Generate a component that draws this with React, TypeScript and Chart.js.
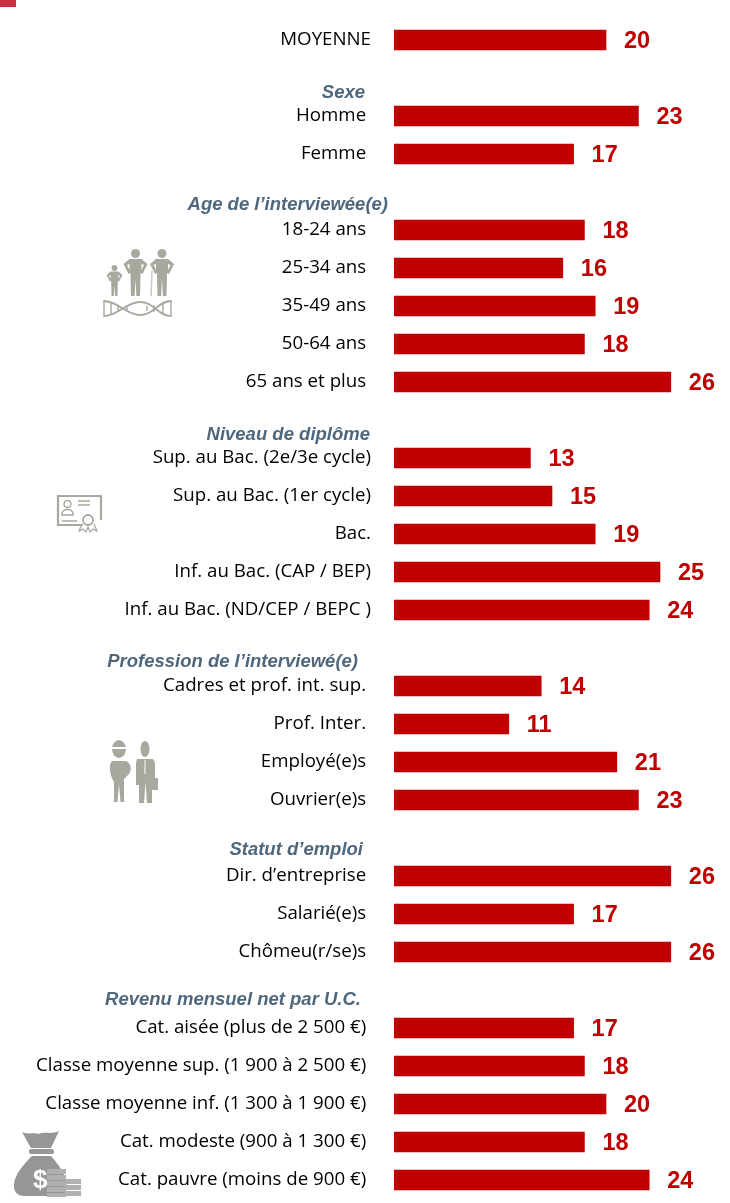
import React, { useEffect, useRef } from "react";
import { Chart, registerables } from "chart.js";

Chart.register(...registerables);

const categories = [
  "MOYENNE", "",
  "Homme", "Femme", "",
  "18-24 ans", "25-34 ans", "35-49 ans", "50-64 ans", "65 ans et plus", "",
  "Sup. au Bac. (2e/3e cycle)", "Sup. au Bac. (1er cycle)", "Bac.", "Inf. au Bac. (CAP / BEP)", "Inf. au Bac. (ND/CEP / BEPC )", "",
  "Cadres et prof. int. sup.", "Prof. Inter.", "Employé(e)s", "Ouvrier(e)s", "",
  "Dir. d’entreprise", "Salarié(e)s", "Chômeu(r/se)s", "",
  "Cat. aisée (plus de 2 500 €)", "Classe moyenne sup. (1 900 à 2 500 €)", "Classe moyenne inf. (1 300 à 1 900 €)", "Cat. modeste (900 à 1 300 €)", "Cat. pauvre (moins de 900 €)",
];
const values = [
  20, null,
  23, 17, null,
  18, 16, 19, 18, 26, null,
  13, 15, 19, 25, 24, null,
  14, 11, 21, 23, null,
  26, 17, 26, null,
  17, 18, 20, 18, 24,
];
const flushLabels = ["MOYENNE", "Sup. au Bac. (2e/3e cycle)", "Sup. au Bac. (1er cycle)", "Bac.", "Inf. au Bac. (CAP / BEP)", "Inf. au Bac. (ND/CEP / BEPC )"];
const headings = ["Sexe", "Age de l’interviewée(e)", "Niveau de diplôme", "Profession de l’interviewé(e)", "Statut d’emploi", "Revenu mensuel net par U.C."];
const headingRows = [1.39, 4.34, 10.39, 16.37, 21.31, 25.26];
const headingRight = [365, 388, 370, 358, 363, 361];

const RED = "#c00000";

const overlay = {
  id: "overlay",
  afterDatasetsDraw(chart: any) {
    const { ctx, scales } = chart;
    ctx.save();
    ctx.fillStyle = RED;
    ctx.font = "bold 23.5px 'Liberation Sans'";
    ctx.textAlign = "left";
    ctx.textBaseline = "middle";
    values.forEach((v, i) => {
      if (v == null) return;
      ctx.fillText(String(v), scales.x.getPixelForValue(v) + 18, scales.y.getPixelForValue(i) + 2);
    });
    ctx.fillStyle = "#4f677c";
    ctx.font = "italic bold 18.5px 'Liberation Sans'";
    ctx.textAlign = "right";
    headings.forEach((h, i) => {
      ctx.fillText(h, headingRight[i], scales.y.getPixelForValue(headingRows[i]));
    });
    ctx.restore();
  },
};

const ICON = "#a9a89f";

function Person({ x, y, s }: { x: number; y: number; s: number }) {
  return (
    <g transform={`translate(${x} ${y}) scale(${s})`} fill={ICON}>
      <circle cx="0" cy="4.5" r="4.5" />
      <path fillRule="evenodd" d="M-6 10 H6 L12 15 L7 25 L5 24 V27 L4.5 47 H0.9 L0 30 L-0.9 47 H-4.5 L-5 27 V24 L-7 25 L-12 15 Z M-6 15 L-8.5 16 L-6 21 Z M6 15 L8.5 16 L6 21 Z" />
    </g>
  );
}

function Icons() {
  const base: React.CSSProperties = { position: "absolute", filter: "blur(0.7px)", overflow: "visible" };
  return (
    <>
      <div style={{ position: "absolute", left: 0, top: 0, width: 16, height: 7, background: "#c8353f" }} />
      <svg style={{ ...base, left: 100, top: 245 }} width="80" height="80">
        <Person x={14.5} y={20} s={0.66} />
        <Person x={35.5} y={4} s={1} />
        <Person x={62} y={4} s={1} />
        <path d="M52 26 L51 51" stroke="#c9c8c2" strokeWidth="1.5" fill="none" />
        <path d="M4 56 C18 56 26 70 40 70 C54 70 58 56 71 56 M4 71 C18 71 26 57 40 57 C54 57 58 71 71 71" stroke={ICON} strokeWidth="1.8" fill="none" />
        <path d="M4 55 V72 M71 55 V72 M11 58 V69 M18 60 V67 M27 62 V65 M47 61 V66 M54 60 V67 M63 57 V70" stroke={ICON} strokeWidth="1.4" />
      </svg>
      <svg style={{ ...base, left: 55, top: 493 }} width="50" height="42" fill="none" stroke={ICON}>
        <path d="M28 32 H3 V3 H46 V27" strokeWidth="2.2" />
        <circle cx="12.5" cy="11" r="3.5" strokeWidth="1.5" />
        <path d="M7 21 C7 15 18 15 18 21 V22 H7 Z M23 8 H35 M23 12 H35 M7 28 H22" strokeWidth="1.5" />
        <circle cx="33" cy="27" r="5" strokeWidth="1.8" />
        <path d="M27 31 L24 38 L28 36 L31 39 L33 34 L35 39 L38 36 L42 38 L39 31" strokeWidth="1.2" />
      </svg>
      <svg style={{ ...base, left: 108, top: 738 }} width="54" height="68" fill={ICON}>
        <ellipse cx="11" cy="11" rx="7" ry="9" />
        <rect x="3" y="9" width="16" height="2" fill="#ffffff" />
        <path d="M4 23 H18 C23 25 24 31 21 36 L16 41 V64 H12.5 L11 46 L9.5 64 H6 V44 C2 38 0 27 4 23 Z" />
        <ellipse cx="37" cy="11" rx="4.5" ry="8" />
        <path d="M29 21 H45 L47 25 V47 H44 V65 H39 L37.5 44 L36 65 H31 V47 H28 V25 Z" />
        <path d="M37 22 V36" stroke="#ffffff" strokeWidth="1" />
        <rect x="40" y="40" width="10" height="12" />
      </svg>
      <svg style={{ ...base, left: 12, top: 1124 }} width="72" height="78" fill="#969696">
        <path d="M10 8 C16 11 22 8 27 10 C33 7 40 11 47 7 L39 24 H19 Z" />
        <rect x="17" y="25" width="25" height="5" rx="2" />
        <path d="M20 32 H39 C46 40 54 50 55 62 C55 69 50 72 45 72 H12 C6 72 1 68 2 60 C3 50 12 40 20 32 Z" />
        <g fill="#ffffff" fontFamily="Liberation Sans" fontWeight="bold" fontSize="26"><text x="21" y="64">$</text></g>
        <rect x="35" y="45" width="19" height="5" fill="#b0b0b0" />
        <rect x="35" y="51" width="19" height="5" fill="#b0b0b0" />
        <rect x="35" y="57" width="19" height="5" fill="#b0b0b0" />
        <rect x="35" y="63" width="19" height="5" fill="#b0b0b0" />
        <rect x="35" y="69" width="19" height="4" fill="#b0b0b0" />
        <rect x="53" y="55" width="16" height="5" fill="#b0b0b0" />
        <rect x="53" y="61" width="16" height="5" fill="#b0b0b0" />
        <rect x="53" y="67" width="16" height="5" fill="#b0b0b0" />
      </svg>
    </>
  );
}

export default function App() {
  const ref = useRef<HTMLCanvasElement>(null);
  useEffect(() => {
    document.body.style.margin = "0";
    const chart = new Chart(ref.current!, {
      type: "bar",
      data: {
        labels: categories,
        datasets: [{ data: values as any, backgroundColor: RED, barThickness: 20, borderWidth: 0 }],
      },
      options: {
        indexAxis: "y",
        animation: false,
        responsive: false,
        layout: { padding: { top: 21, bottom: 4, left: 0, right: 0 } },
        plugins: { legend: { display: false }, tooltip: { enabled: false } },
        scales: {
          x: { display: false, min: 0.37, max: 31.48 },
          y: {
            afterFit(scale: any) {
              scale.width = 394;
              scale.paddingTop = 0;
              scale.paddingBottom = 0;
            },
            grid: { display: false, drawTicks: false },
            border: { display: false },
            ticks: {
              autoSkip: false,
              padding: 23,
              color: "#000000",
              font: { family: "'Open Sans'", size: 18.7 },
              callback(this: any, _v: any, i: number) {
                const label = categories[i];
                return flushLabels.includes(label) ? label : label + " ";
              },
            },
          },
        },
      },
      plugins: [overlay],
    } as any);
    return () => chart.destroy();
  }, []);
  return (
    <div style={{ position: "absolute", left: 0, top: 0, width: 730, height: 1203, overflow: "hidden", background: "#fff" }}>
      <canvas ref={ref} width={730} height={1203} style={{ display: "block" }} />
      <Icons />
    </div>
  );
}
